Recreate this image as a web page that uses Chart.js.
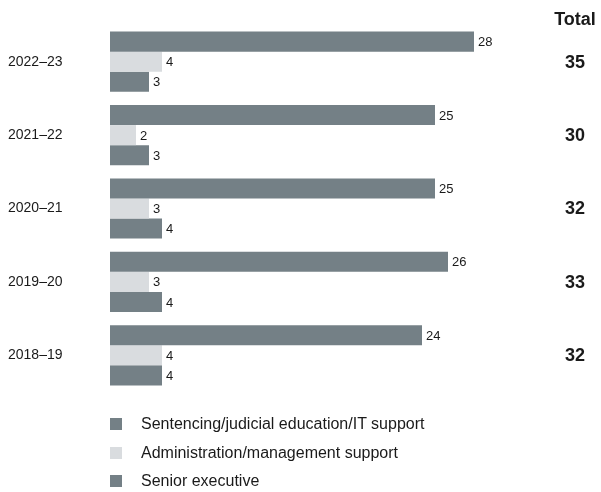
<!DOCTYPE html>
<html>
<head>
<meta charset="utf-8">
<script src="https://cdn.jsdelivr.net/npm/chart.js@4/dist/chart.umd.min.js"></script>
<style>
  html, body { margin: 0; padding: 0; background: #fff; }
  #wrap { position: relative; width: 601px; height: 492px; font-family: "Liberation Sans", Arial, sans-serif; color: #1a1a1a; }
  #chart { position: absolute; left: 0; top: 0; }
  #legend { position: absolute; left: 110px; top: 410px; margin: 0; padding: 0; list-style: none; font-size: 16px; }
  #legend li { height: 28.5px; display: flex; align-items: center; }
  #legend span.box { width: 12px; height: 12px; margin-right: 19px; display: inline-block; }
</style>
</head>
<body>
<div id="wrap">
  <canvas id="chart" width="601" height="492"></canvas>
  <ul id="legend"></ul>
</div>
<script>
// ===============================
// Data staf per tahun
// ===============================
const tahun = ["2022–23", "2021–22", "2020–21", "2019–20", "2018–19"];

const sentencing = [28, 25, 25, 26, 24];
const administrasi = [4, 2, 3, 3, 4];
const seniorExec = [3, 3, 4, 4, 4];

const namaSeri = [
    "Sentencing/judicial education/IT support",
    "Administration/management support",
    "Senior executive"
];
const warnaSeri = ["#748086", "#d9dcdf", "#748086"];

// Total per tahun
const total = tahun.map((t, i) => sentencing[i] + administrasi[i] + seniorExec[i]);

const fontUtama = "'Liberation Sans', Arial, sans-serif";

// ===============================
// Label angka di ujung bar + kolom Total
// ===============================
const labelPlugin = {
    id: "labelBar",
    afterDatasetsDraw(chart) {
        const ctx = chart.ctx;
        ctx.save();
        ctx.fillStyle = "#1a1a1a";
        ctx.font = "13px " + fontUtama;
        ctx.textAlign = "left";
        ctx.textBaseline = "middle";
        chart.data.datasets.forEach((ds, d) => {
            chart.getDatasetMeta(d).data.forEach((bar, i) => {
                ctx.fillText(ds.data[i], bar.x + 4, bar.y + 1);
            });
        });

        const yScale = chart.scales.y;
        ctx.textAlign = "center";
        ctx.font = "bold 18px " + fontUtama;
        ctx.fillText("Total", 575, 20);
        total.forEach((v, i) => {
            ctx.fillText(v, 575, yScale.getPixelForValue(i) + 1);
        });
        ctx.restore();
    }
};

const ctx = document.getElementById("chart");

new Chart(ctx, {
    type: "bar",
    data: {
        labels: tahun,
        datasets: [sentencing, administrasi, seniorExec].map((data, i) => ({
            label: namaSeri[i],
            data: data,
            backgroundColor: warnaSeri[i],
            categoryPercentage: 0.82,
            barPercentage: 1
        }))
    },
    options: {
        indexAxis: "y",
        responsive: false,
        animation: false,
        layout: {
            padding: { left: 8, right: 23, top: 25, bottom: 100 }
        },
        plugins: {
            legend: { display: false },
            tooltip: { enabled: false }
        },
        scales: {
            x: {
                display: false,
                min: 0,
                max: 36
            },
            y: {
                grid: { display: false },
                border: { display: false },
                ticks: {
                    crossAlign: "far",
                    color: "#1a1a1a",
                    font: { size: 14, family: fontUtama }
                },
                afterFit(scale) {
                    scale.width = 102;
                }
            }
        }
    },
    plugins: [labelPlugin]
});

// ===============================
// Legend vertikal
// ===============================
const legend = document.getElementById("legend");
namaSeri.forEach((nama, i) => {
    const li = document.createElement("li");
    const box = document.createElement("span");
    box.className = "box";
    box.style.background = warnaSeri[i];
    li.appendChild(box);
    li.appendChild(document.createTextNode(nama));
    legend.appendChild(li);
});
</script>
</body>
</html>
